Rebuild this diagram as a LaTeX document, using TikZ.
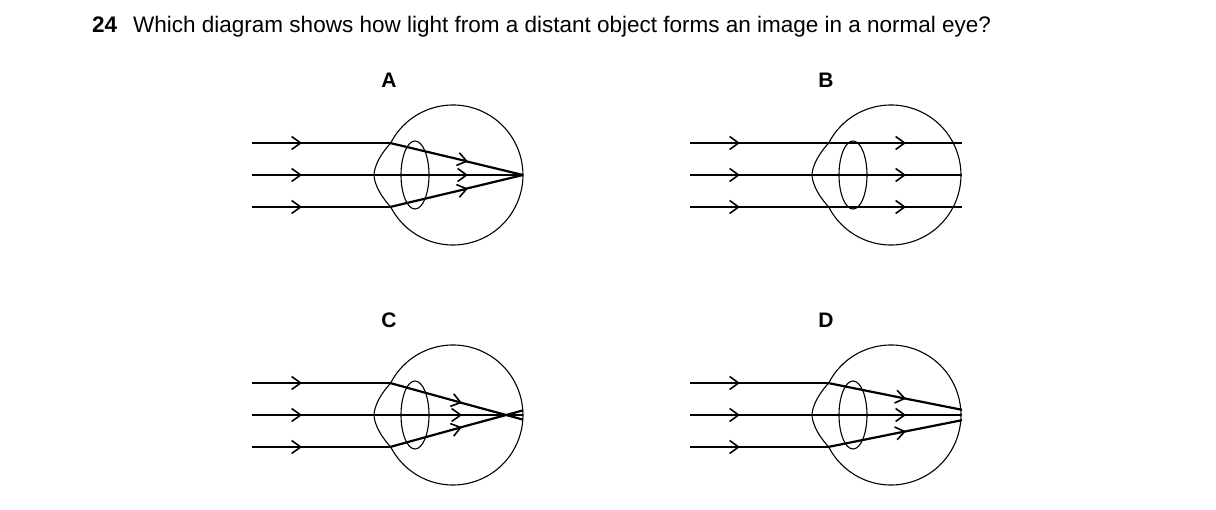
\documentclass[tikz,border=0pt]{standalone}
\usepackage{fontspec}
\setmainfont{Liberation Sans}
\usetikzlibrary{arrows.meta}
\begin{document}
\begin{tikzpicture}[x=1pt,y=-1pt,
  ray/.style={line width=2.2pt},
  thin/.style={line width=1.1pt},
  tip/.style={-{Straight Barb[length=9pt,width=13pt,line width=1.6pt]}},
  lab/.style={font=\bfseries\fontsize{21}{25}\selectfont}]
\useasboundingbox (0,0) rectangle (1216,510);
\node[anchor=base west,font=\fontsize{22.5}{27}\selectfont,inner sep=0pt] (q) at (92,33) {\textbf{24}\hspace{16pt}Which diagram shows how light from a distant object forms an image in a normal eye?};
\node[lab] (la) at (389,80) {A};
\node[lab] (lb) at (826,80) {B};
\node[lab] (lc) at (389,320) {C};
\node[lab] (ld) at (826,320) {D};
\newcommand\eyebase[2]{%
 \begin{scope}[shift={(#1,#2)}]
  \draw[thin] (390.7,143) arc (-152.8:152.8:70);
  \draw[thin] (390.7,143) .. controls (377,158) and (374,170) .. (374,175) .. controls (374,180) and (377,192) .. (390.7,207);
  \draw[thin] (415,175) ellipse (14 and 34);
  \foreach \yy in {143,175,207}{
   \draw[ray,tip] (252,\yy) -- (302,\yy);
   \draw[ray] (298,\yy) -- (390,\yy);}
 \end{scope}}
% A
\eyebase{0}{0}
\draw[ray,tip] (390,143) -- (468,161.5); \draw[ray] (464,160.8) -- (523,175);
\draw[ray,tip] (390,207) -- (468,188.5); \draw[ray] (464,189.2) -- (523,175);
\draw[ray,tip] (390,175) -- (468,175); \draw[ray] (464,175) -- (523,175);
% B
\eyebase{438}{0}
\foreach \yy in {143,175,207}{
 \draw[ray,tip] (828,\yy) -- (906,\yy); \draw[ray] (902,\yy) -- (962,\yy);}
% C
\eyebase{0}{240}
\draw[ray,tip] (390,383) -- (462,402.9); \draw[ray] (458,401.9) -- (523,419.6);
\draw[ray,tip] (390,447) -- (462,427.1); \draw[ray] (458,428.1) -- (523,410.4);
\draw[ray,tip] (390,415) -- (462,415); \draw[ray] (458,415) -- (523,415);
% D
\eyebase{438}{240}
\draw[ray,tip] (828,383) -- (906,398.7); \draw[ray] (902,397.9) -- (962,409.8);
\draw[ray,tip] (828,447) -- (906,431.3); \draw[ray] (902,432.1) -- (962,420.2);
\draw[ray,tip] (828,415) -- (906,415); \draw[ray] (902,415) -- (962,415);
\end{tikzpicture}
\end{document}
